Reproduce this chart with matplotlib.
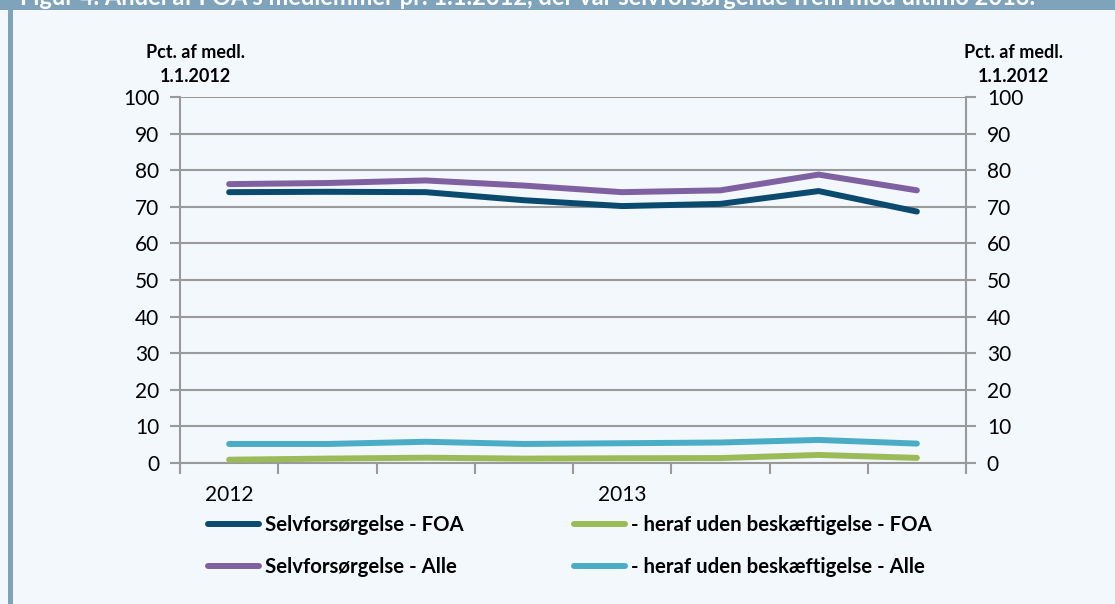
import matplotlib
matplotlib.use("Agg")
import matplotlib.pyplot as plt
from matplotlib.patches import Rectangle
import numpy as np

# Data (quarters 2012 Q1 - 2013 Q4)
periods = ["2012K1", "2012K2", "2012K3", "2012K4", "2013K1", "2013K2", "2013K3", "2013K4"]
tick_labels = ["2012", "", "", "", "2013", "", "", ""]
selv_foa = [74.0, 74.1, 74.0, 71.8, 70.2, 70.8, 74.3, 68.7]
uden_foa = [0.9, 1.2, 1.45, 1.2, 1.3, 1.35, 2.2, 1.4]
selv_alle = [76.2, 76.5, 77.2, 75.8, 74.0, 74.5, 78.8, 74.5]
uden_alle = [5.2, 5.2, 5.8, 5.2, 5.4, 5.6, 6.3, 5.3]

series_labels = ["Selvforsørgelse - FOA", "Selvforsørgelse - Alle",
                 "- heraf uden beskæftigelse - FOA", "- heraf uden beskæftigelse - Alle"]
colors = ["#0b4a6f", "#7f61a1", "#9bbb59", "#4bacc6"]

bg = "#f3f8fc"
grid_c = "#9a9a9a"

fig = plt.figure(figsize=(11.15, 6.04), dpi=100, facecolor=bg)

# top band and left border
fig.patches.append(Rectangle((0, 1 - 9.5 / 604), 1, 9.5 / 604, transform=fig.transFigure,
                             facecolor="#7fa3bb", edgecolor="none", zorder=0))
fig.patches.append(Rectangle((8 / 1115, 0), 4.5 / 1115, 1 - 9.5 / 604, transform=fig.transFigure,
                             facecolor="#7fa3bb", edgecolor="none", zorder=0))
fig.text(20 / 1115, 1 - 5 / 604,
         "Figur 4. Andel af FOA's medlemmer pr. 1.1.2012, der var selvforsørgende frem mod ultimo 2013.",
         color="white", fontsize=17, fontweight="bold", family="Lato", va="baseline", ha="left")

ax = fig.add_axes([180 / 1115, 1 - 463 / 604, (966 - 180) / 1115, (463 - 97) / 604])
ax.set_facecolor(bg)

x = np.arange(len(periods))
data = [selv_foa, selv_alle, uden_foa, uden_alle]
for vals, c, lab in zip(data, colors, series_labels):
    ax.plot(x, vals, color=c, lw=4.3, solid_capstyle="round", solid_joinstyle="round", label=lab, zorder=3)

ax.set_xlim(-0.5, len(periods) - 0.5)
ax.set_ylim(0, 100)
ax.set_yticks(np.arange(0, 101, 10))
ax.grid(axis="y", color=grid_c, lw=1.5)
ax.set_axisbelow(True)
ax.spines["top"].set_visible(False)
for s in ["left", "right", "bottom"]:
    ax.spines[s].set_color(grid_c)
    ax.spines[s].set_linewidth(1.5)

ax.set_xticks(x)
ax.set_xticklabels(tick_labels)
ax.set_xticks(np.arange(-0.5, len(periods), 1), minor=True)
ax.tick_params(axis="x", which="major", length=0, pad=16, labelsize=15)
ax.tick_params(axis="x", which="minor", length=8, width=1.5, color=grid_c)
for lbl in ax.get_xticklabels():
    lbl.set_family("Lato")
ax.tick_params(axis="y", length=7, width=1.5, color=grid_c, labelsize=15, pad=8)
for lbl in ax.get_yticklabels():
    lbl.set_family("Lato")

ax2 = ax.twinx()
ax2.set_ylim(0, 100)
ax2.set_yticks(np.arange(0, 101, 10))
ax2.tick_params(axis="y", length=7, width=1.5, color=grid_c, labelsize=15, pad=8)
for lbl in ax2.get_yticklabels():
    lbl.set_family("Lato")
for s in ax2.spines.values():
    s.set_visible(False)

fig.text(195 / 1115, 1 - 65 / 604, "Pct. af medl.\n1.1.2012", ha="center", va="center",
         fontsize=13, fontweight="bold", family="Lato", linespacing=1.5)
fig.text(1013 / 1115, 1 - 65 / 604, "Pct. af medl.\n1.1.2012", ha="center", va="center",
         fontsize=13, fontweight="bold", family="Lato", linespacing=1.5)

leg = ax.legend(loc="upper left", bbox_to_anchor=(208 / 1115, 1 - 515 / 604),
                bbox_transform=fig.transFigure, ncol=2, frameon=False,
                prop={"family": "Lato", "weight": "bold", "size": 14.7},
                handlelength=2.5, handletextpad=0.3, columnspacing=5.4, labelspacing=1.1,
                borderaxespad=0, borderpad=0)

fig.savefig("out.png", dpi=100, facecolor=bg)
